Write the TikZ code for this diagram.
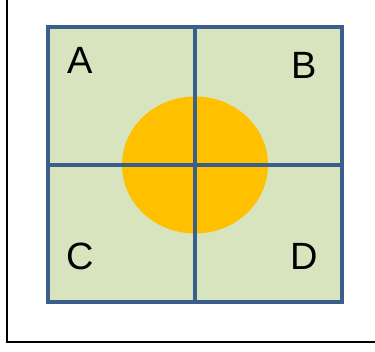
\documentclass[tikz,border=0pt]{standalone}
\usepackage{fontspec}
\setmainfont{Liberation Sans}
\definecolor{cellgreen}{HTML}{D7E4BD}
\definecolor{gridblue}{HTML}{3A5F8D}
\definecolor{spotorange}{HTML}{FFC000}
\tikzset{
  gridline/.style={draw=gridblue, line width=3.5pt},
  quadlabel/.style={font=\fontsize{38}{40}\selectfont, inner sep=0pt}
}
\begin{document}
\begin{tikzpicture}[x=1pt, y=-1pt]
\useasboundingbox (0,0) rectangle (375,352);
% outer frame
\draw[line width=2.5pt] (7,-5) -- (7,342) -- (380,342);
% field
\fill[cellgreen] (48,27) rectangle (342,302);
\fill[spotorange] (195,165) ellipse (73 and 68.5);
\draw[gridline] (195,27) -- (195,302);
\draw[gridline] (48,165) -- (342,165);
\draw[gridline] (48,27) rectangle (342,302);
% labels
\node[quadlabel] (a) at (80,60) {A};
\node[quadlabel] (b) at (304,65) {B};
\node[quadlabel] (c) at (80,256) {C};
\node[quadlabel] (d) at (304,256) {D};
\end{tikzpicture}
\end{document}
